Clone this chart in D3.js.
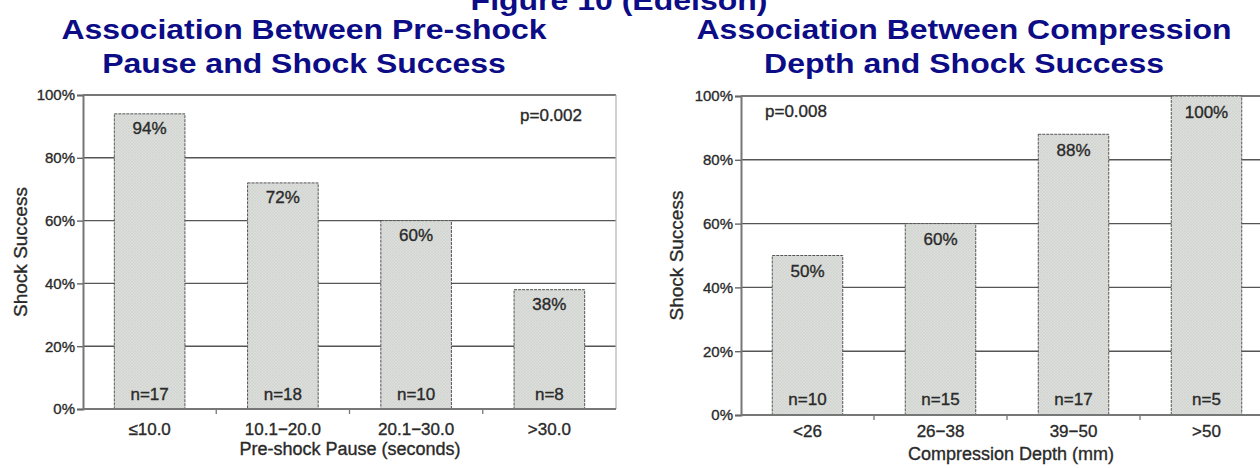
<!DOCTYPE html>
<html>
<head>
<meta charset="utf-8">
<script src="https://cdn.jsdelivr.net/npm/d3@7"></script>
<style>
  html, body { margin: 0; padding: 0; background: #fff; }
  svg { display: block; }
  .title { font-family: "Liberation Sans", Arial, sans-serif; font-weight: bold; fill: #0c0c86; }
  .lbl { font-family: "Liberation Sans", Arial, sans-serif; fill: #2a2a2a; stroke: #2a2a2a; stroke-width: 0.35px; }
</style>
</head>
<body>
<svg id="chart" width="1260" height="468"></svg>
<script>
// Shock success by pre-shock pause duration
const pauseCategories = ["≤10.0", "10.1−20.0", "20.1−30.0", ">30.0"];
const pauseSuccess = [94, 72, 60, 38];
const pauseCounts = [17, 18, 10, 8];

// Shock success by compression depth
const depthCategories = ["<26", "26−38", "39−50", ">50"];
const depthSuccess = [50, 60, 88, 100];
const depthCounts = [10, 15, 17, 5];

const yTicks = [0, 20, 40, 60, 80, 100];

const svg = d3.select("#chart");

// light grey cross-hatched fill used for the bars
const defs = svg.append("defs");
const pat = defs.append("pattern")
  .attr("id", "hatch")
  .attr("patternUnits", "userSpaceOnUse")
  .attr("width", 3).attr("height", 3);
pat.append("rect").attr("width", 3).attr("height", 3).attr("fill", "#dcdedb");
pat.append("path").attr("d", "M0,3 L3,0").attr("stroke", "#cdd0cd").attr("stroke-width", 0.6);
pat.append("path").attr("d", "M0,0 L3,3").attr("stroke", "#d0d2cf").attr("stroke-width", 0.6);

// wide bold heading text, centred on cx
function heading(cx, y, txt) {
  svg.append("text").attr("class", "title")
    .attr("transform", `translate(${cx},${y}) scale(1.185,1)`)
    .attr("text-anchor", "middle")
    .style("font-size", "27px")
    .text(txt);
}

heading(619, 10, "Figure 10 (Edelson)");

function drawPanel(o) {
  const g = svg.append("g");
  const x = d3.scaleBand().domain(o.categories).range([o.left, o.right]);
  const y = d3.scaleLinear().domain([0, 100]).range([o.bottom, o.top]);

  o.title.forEach((line, i) => heading(o.titleX, 39 + i * 34, line));

  // horizontal gridlines
  g.append("g").selectAll("line").data(yTicks.filter(t => t > 0)).join("line")
    .attr("x1", o.left).attr("x2", o.gridRight)
    .attr("y1", d => y(d)).attr("y2", d => y(d))
    .attr("stroke", d => d === 100 ? "#777" : "#555")
    .attr("stroke-width", d => d === 100 ? 2 : 1.4);

  if (o.border) {
    g.append("line")
      .attr("x1", o.right).attr("x2", o.right)
      .attr("y1", y(100)).attr("y2", y(0))
      .attr("stroke", "#b4b4b4").attr("stroke-width", 1.2);
  }

  const bw = x.bandwidth() * 0.53;
  const cx = d => x(d) + x.bandwidth() / 2;

  // bars
  g.append("g").selectAll("rect").data(o.categories).join("rect")
    .attr("x", d => cx(d) - bw / 2)
    .attr("width", bw)
    .attr("y", (d, i) => y(o.values[i]))
    .attr("height", (d, i) => y(0) - y(o.values[i]))
    .attr("fill", "url(#hatch)")
    .attr("stroke", "#555")
    .attr("stroke-width", 1)
    .attr("stroke-dasharray", "3,1");

  // percentage labels at the top of each bar
  g.append("g").selectAll("text").data(o.categories).join("text")
    .attr("class", "lbl")
    .attr("x", d => cx(d)).attr("y", (d, i) => y(o.values[i]) + o.pctOffset)
    .attr("text-anchor", "middle")
    .style("font-size", "17px")
    .text((d, i) => o.values[i] + "%");

  // sample size labels at the bottom of each bar
  g.append("g").selectAll("text").data(o.categories).join("text")
    .attr("class", "lbl")
    .attr("x", d => cx(d)).attr("y", y(0) - o.nOffset)
    .attr("text-anchor", "middle")
    .style("font-size", "17px")
    .text((d, i) => "n=" + o.counts[i]);

  // y axis
  const yAxis = d3.axisLeft(y).tickValues(yTicks).tickFormat(d => d + "%")
    .tickSize(6).tickPadding(2);
  const ya = g.append("g").attr("transform", `translate(${o.left},0)`).call(yAxis);
  ya.select(".domain").attr("stroke", "#777").attr("stroke-width", 2);
  ya.selectAll(".tick line").attr("stroke", "#666").attr("stroke-width", 1.4);
  ya.selectAll(".tick text").attr("class", "lbl").style("font-size", "15px")
    .attr("fill", "#2a2a2a");

  // x axis: baseline, ticks at band edges, category labels
  g.append("line")
    .attr("x1", o.left).attr("x2", o.gridRight)
    .attr("y1", y(0)).attr("y2", y(0))
    .attr("stroke", "#777").attr("stroke-width", 2);
  const edges = o.categories.slice(1).map(d => x(d));
  g.append("g").selectAll("line").data(edges).join("line")
    .attr("x1", d => d).attr("x2", d => d)
    .attr("y1", y(0)).attr("y2", y(0) + 5)
    .attr("stroke", "#777").attr("stroke-width", 1.3);
  g.append("g").selectAll("text").data(o.categories).join("text")
    .attr("class", "lbl")
    .attr("x", d => cx(d)).attr("y", y(0) + o.catOffset)
    .attr("text-anchor", "middle")
    .style("font-size", "17px")
    .text(d => d);

  // axis titles
  g.append("text").attr("class", "lbl")
    .attr("x", o.xTitleX).attr("y", y(0) + o.xTitleOffset)
    .attr("text-anchor", "middle")
    .style("font-size", "18px")
    .text(o.xTitle);
  g.append("text").attr("class", "lbl")
    .attr("transform", `translate(${o.yTitleX},${(o.top + o.bottom) / 2}) rotate(-90)`)
    .attr("text-anchor", "middle")
    .style("font-size", "19px")
    .text("Shock Success");

  // significance
  g.append("text").attr("class", "lbl")
    .attr("x", o.pX).attr("y", o.pY)
    .attr("text-anchor", o.pAnchor)
    .style("font-size", "17px")
    .text(o.pText);
}

drawPanel({
  categories: pauseCategories, values: pauseSuccess, counts: pauseCounts,
  left: 83, right: 616, gridRight: 616, top: 95, bottom: 409, border: true,
  title: ["Association Between Pre-shock", "Pause and Shock Success"], titleX: 304,
  xTitle: "Pre-shock Pause (seconds)", xTitleX: 350, xTitleOffset: 46, yTitleX: 27,
  catOffset: 26, nOffset: 9,
  pText: "p=0.002", pX: 582, pY: 121, pAnchor: "end", pctOffset: 20
});

drawPanel({
  categories: depthCategories, values: depthSuccess, counts: depthCounts,
  left: 741, right: 1273, gridRight: 1273, top: 96, bottom: 415, border: false,
  title: ["Association Between Compression", "Depth and Shock Success"], titleX: 964,
  xTitle: "Compression Depth (mm)", xTitleX: 1011, xTitleOffset: 45, yTitleX: 683,
  catOffset: 22, nOffset: 10,
  pText: "p=0.008", pX: 765, pY: 117, pAnchor: "start", pctOffset: 21.5
});
</script>
</body>
</html>
